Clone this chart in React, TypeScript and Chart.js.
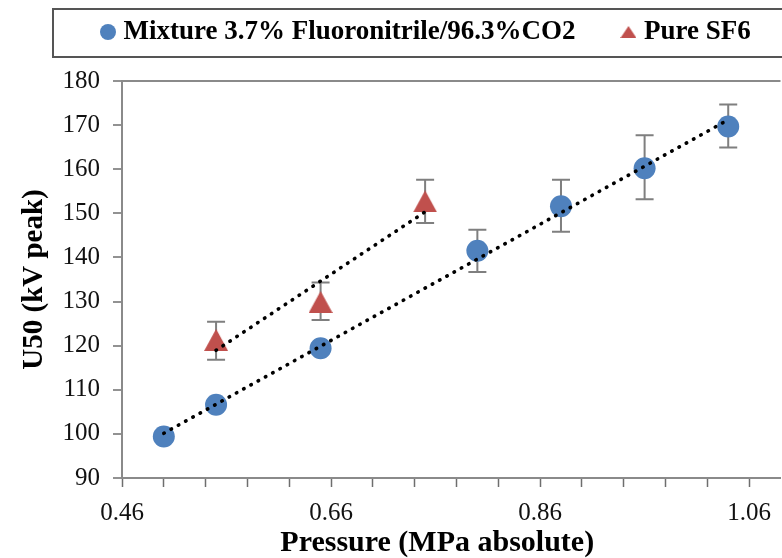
import React, { useEffect, useRef } from 'react';
import { Chart, registerables } from 'chart.js';

Chart.register(...registerables);

// ---------- data ----------
const seriesNames = ['Mixture 3.7% Fluoronitrile/96.3%CO2', 'Pure SF6'];

const mixturePressure = [0.50, 0.55, 0.65, 0.80, 0.88, 0.96, 1.04];
const mixtureU50 = [99.4, 106.6, 119.4, 141.5, 151.6, 160.2, 169.7];
const mixtureErrUp = [0, 0, 0, 4.8, 6.0, 7.5, 5.0];
const mixtureErrDown = [0, 0, 0, 4.8, 5.8, 7.0, 4.8];

const sf6Pressure = [0.55, 0.65, 0.75];
const sf6U50 = [121.3, 129.9, 152.7];
const sf6ErrUp = [4.1, 4.4, 4.9];
const sf6ErrDown = [4.5, 4.1, 4.9];

const xTickValues = [0.46, 0.50, 0.54, 0.58, 0.62, 0.66, 0.70, 0.74, 0.78, 0.82, 0.86, 0.90, 0.94, 0.98, 1.02, 1.06];
const xLabelValues = [0.46, 0.66, 0.86, 1.06];
const xMin = 0.46;
const xMax = 1.09;
const yMin = 90;
const yMax = 180;
const yStep = 10;

const xTitle = 'Pressure (MPa absolute)';
const yTitle = 'U50 (kV peak)';

// ---------- style ----------
const BLUE = '#4F81BD';
const RED = '#C0504D';
const AXIS = '#8a8a8a';
const TICK = '#6e6e6e';
const ERR = '#7f7f7f';
const FONT = 'Liberation Serif';

const LEGEND_BOX = { x: 53, y: 9, w: 800, h: 48 };
const LEGEND_FIRST_X = 106;
const LEGEND_TEXT_Y = 32;
const LEGEND_PAD = 51;
const LEGEND_FONT = 27;
const X_TITLE_SHIFT = 28; // title is centred slightly left of the (cropped) plot centre

function linearFit(xs: number[], ys: number[]) {
  const n = xs.length;
  const mx = xs.reduce((a, b) => a + b, 0) / n;
  const my = ys.reduce((a, b) => a + b, 0) / n;
  let sxy = 0, sxx = 0;
  for (let i = 0; i < n; i++) {
    sxy += (xs[i] - mx) * (ys[i] - my);
    sxx += (xs[i] - mx) * (xs[i] - mx);
  }
  const slope = sxy / sxx;
  const icpt = my - slope * mx;
  const x0 = Math.min(...xs), x1 = Math.max(...xs);
  return [{ x: x0, y: icpt + slope * x0 }, { x: x1, y: icpt + slope * x1 }];
}

function makeTriangle(w: number, h: number, color: string) {
  const c = document.createElement('canvas');
  c.width = w; c.height = h;
  const g = c.getContext('2d')!;
  g.fillStyle = color;
  g.beginPath();
  g.moveTo(w / 2, 0);
  g.lineTo(w, h);
  g.lineTo(0, h);
  g.closePath();
  g.fill();
  return c;
}

function makeCircle(d: number, color: string) {
  const c = document.createElement('canvas');
  c.width = d; c.height = d;
  const g = c.getContext('2d')!;
  g.fillStyle = color;
  g.beginPath();
  g.arc(d / 2, d / 2, d / 2, 0, Math.PI * 2);
  g.fill();
  return c;
}

export default function App() {
  const ref = useRef<HTMLCanvasElement>(null);

  useEffect(() => {
    const triPlot = makeTriangle(24, 22, RED);
    const triLegend = makeTriangle(16, 12, RED);
    const circLegend = makeCircle(16, BLUE);

    const errorBars = {
      id: 'errorBars',
      beforeDatasetsDraw(chart: any) {
        const { ctx, scales } = chart;
        const xs = scales.x, ys = scales.y;
        const groups = [
          [mixturePressure, mixtureU50, mixtureErrUp, mixtureErrDown],
          [sf6Pressure, sf6U50, sf6ErrUp, sf6ErrDown],
        ];
        ctx.save();
        ctx.strokeStyle = ERR;
        ctx.lineWidth = 2;
        for (const [px, py, up, dn] of groups) {
          for (let i = 0; i < px.length; i++) {
            if (!up[i] && !dn[i]) continue;
            const x = xs.getPixelForValue(px[i]);
            const yt = ys.getPixelForValue(py[i] + up[i]);
            const yb = ys.getPixelForValue(py[i] - dn[i]);
            ctx.beginPath();
            ctx.moveTo(x, yt); ctx.lineTo(x, yb);
            ctx.moveTo(x - 9, yt); ctx.lineTo(x + 9, yt);
            ctx.moveTo(x - 9, yb); ctx.lineTo(x + 9, yb);
            ctx.stroke();
          }
        }
        ctx.restore();
      },
    };

    const legendLayout = {
      id: 'legendLayout',
      beforeInit(chart: any) {
        const lg = chart.legend;
        const fit = lg.fit;
        lg.fit = function () {
          fit.call(this);
          this.height = 72;
        };
      },
      afterLayout(chart: any) {
        const lg = chart.legend;
        lg.left = LEGEND_FIRST_X - LEGEND_PAD;
        lg.right = 2000;
        lg.top = LEGEND_TEXT_Y - LEGEND_PAD - LEGEND_FONT / 2;
        const sx = chart.scales.x;
        if (!sx._titleShifted) {
          const origDrawTitle = sx.drawTitle;
          sx.drawTitle = function () {
            const r = this.right;
            this.right = r - X_TITLE_SHIFT;
            origDrawTitle.call(this);
            this.right = r;
          };
          sx._titleShifted = true;
        }
      },
      afterDraw(chart: any) {
        const ctx = chart.ctx;
        ctx.save();
        ctx.strokeStyle = '#555';
        ctx.lineWidth = 2;
        ctx.strokeRect(LEGEND_BOX.x, LEGEND_BOX.y, LEGEND_BOX.w, LEGEND_BOX.h);
        ctx.restore();
      },
    };

    const chart = new Chart(ref.current!, {
      type: 'scatter',
      data: {
        datasets: [
          {
            type: 'line',
            label: 'trend-mixture',
            data: linearFit(mixturePressure, mixtureU50),
            borderColor: '#000',
            borderWidth: 3.6,
            borderDash: [0.5, 7.8],
            borderCapStyle: 'round',
            pointRadius: 0,
            showLine: true,
            fill: false,
            order: 0,
          } as any,
          {
            type: 'line',
            label: 'trend-sf6',
            data: linearFit(sf6Pressure, sf6U50),
            borderColor: '#000',
            borderWidth: 3.6,
            borderDash: [0.5, 7.8],
            borderCapStyle: 'round',
            pointRadius: 0,
            showLine: true,
            fill: false,
            order: 0,
          } as any,
          {
            label: seriesNames[0],
            data: mixturePressure.map((x, i) => ({ x, y: mixtureU50[i] })),
            pointStyle: 'circle',
            pointRadius: 11,
            backgroundColor: BLUE,
            borderWidth: 0,
            order: 2,
          },
          {
            label: seriesNames[1],
            data: sf6Pressure.map((x, i) => ({ x, y: sf6U50[i] })),
            pointStyle: triPlot as any,
            pointRadius: 12,
            backgroundColor: RED,
            borderWidth: 0,
            order: 2,
          },
        ],
      },
      options: {
        animation: false,
        responsive: false,
        devicePixelRatio: 1,
        layout: { autoPadding: false, padding: { top: 9, left: 20.5, right: 0, bottom: 11 } },
        plugins: {
          tooltip: { enabled: false },
          legend: {
            display: true,
            position: 'top',
            align: 'start',
            labels: {
              usePointStyle: true,
              boxWidth: 4,
              boxHeight: 4,
              padding: LEGEND_PAD,
              color: '#000',
              font: { family: FONT, size: LEGEND_FONT, weight: 'bold' },
              generateLabels: () => [
                { text: seriesNames[0], pointStyle: circLegend as any, fillStyle: BLUE, strokeStyle: BLUE, lineWidth: 0, hidden: false, datasetIndex: 2, fontColor: '#000' },
                { text: seriesNames[1], pointStyle: triLegend as any, fillStyle: RED, strokeStyle: RED, lineWidth: 0, hidden: false, datasetIndex: 3, fontColor: '#000' },
              ],
            },
          },
        },
        scales: {
          x: {
            type: 'linear',
            min: xMin,
            max: xMax,
            afterBuildTicks: (scale: any) => {
              scale.ticks = xTickValues.map((v) => ({ value: v }));
            },
            ticks: {
              autoSkip: false,
              maxRotation: 0,
              padding: 11,
              color: '#111',
              font: { family: FONT, size: 25 },
              callback: (v: any) =>
                xLabelValues.some((l) => Math.abs(l - Number(v)) < 1e-6) ? Number(v).toFixed(2) : '',
            },
            grid: { drawOnChartArea: false, drawTicks: true, tickLength: 9, tickColor: TICK, tickWidth: 1.5 },
            border: { display: true, color: AXIS, width: 2 },
            title: {
              display: true,
              text: xTitle,
              color: '#000',
              padding: 0,
              font: { family: FONT, size: 30, weight: 'bold', lineHeight: 0.267 },
            },
          },
          y: {
            type: 'linear',
            min: yMin,
            max: yMax,
            ticks: {
              stepSize: yStep,
              padding: 13,
              color: '#111',
              font: { family: FONT, size: 25 },
            },
            grid: {
              drawOnChartArea: true,
              color: (c: any) => (c.tick && c.tick.value === yMax ? AXIS : 'rgba(0,0,0,0)'),
              lineWidth: 2,
              drawTicks: true,
              tickLength: 9,
              tickColor: TICK,
              tickWidth: 1.5,
            },
            border: { display: true, color: AXIS, width: 2 },
            title: {
              display: true,
              text: yTitle,
              color: '#000',
              padding: 0,
              font: { family: FONT, size: 29, weight: 'bold', lineHeight: 1 },
            },
          },
        },
      },
      plugins: [errorBars, legendLayout],
    } as any);

    return () => chart.destroy();
  }, []);

  return (
    <div style={{ position: 'fixed', left: 0, top: 0, width: 782, height: 558, background: '#fff' }}>
      <canvas ref={ref} width={782} height={558} style={{ display: 'block', width: 782, height: 558 }} />
    </div>
  );
}
